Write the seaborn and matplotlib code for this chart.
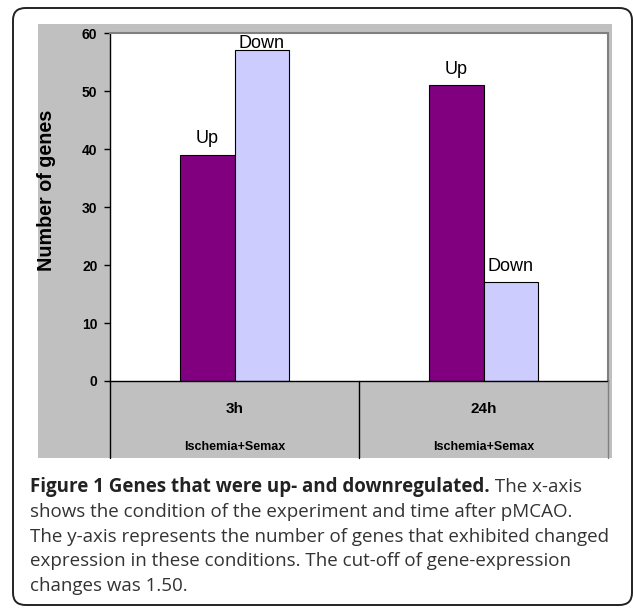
import matplotlib
matplotlib.use("Agg")
import matplotlib.pyplot as plt
from matplotlib.patches import Rectangle, FancyBboxPatch
from matplotlib.lines import Line2D
import seaborn as sns
import pandas as pd

# data
times = ["3h", "24h"]
conditions = ["Ischemia+Semax", "Ischemia+Semax"]
directions = ["Up", "Down"]
up_counts = [39, 51]
down_counts = [57, 17]
y_ticks = [0, 10, 20, 30, 40, 50, 60]

caption_bold = "Figure 1 Genes that were up- and downregulated."
caption_lines = [
    " The x-axis",
    "shows the condition of the experiment and time after pMCAO.",
    "The y-axis represents the number of genes that exhibited changed",
    "expression in these conditions. The cut-off of gene-expression",
    "changes was 1.50.",
]

df = pd.DataFrame({
    "time": times * 2,
    "direction": ["Up"] * len(times) + ["Down"] * len(times),
    "count": up_counts + down_counts,
})

sns.set_style("white")
plt.rcParams["font.family"] = ["Liberation Sans", "DejaVu Sans"]
plt.rcParams["text.color"] = "black"
plt.rcParams["axes.labelcolor"] = "black"
plt.rcParams["ytick.color"] = "black"

W, H = 633, 608
fig = plt.figure(figsize=(W / 100, H / 100), dpi=100)


def px(x, y):
    # pixel (from top-left) -> figure fraction
    return x / W, 1 - y / H


# outer rounded frame
fig.patches.append(FancyBboxPatch(px(13, 605), 619 / W, 597 / H,
                                  boxstyle="round,pad=0,rounding_size=0.02",
                                  transform=fig.transFigure, fill=False,
                                  edgecolor="#222222", linewidth=1.4, zorder=-2))

# grey chart panel
fig.patches.append(Rectangle(px(38, 458), 574 / W, 434 / H,
                             transform=fig.transFigure, facecolor="#c0c0c0",
                             edgecolor="none", zorder=-1))

left, right, top, zero = 110, 608, 33, 381
ax = fig.add_axes([left / W, 1 - zero / H, (right - left) / W, (zero - top) / H])
ax.set_facecolor("white")
ax.set_zorder(1)

sns.barplot(data=df, x="time", y="count", hue="direction", order=times,
            hue_order=directions, palette={"Up": "#800080", "Down": "#ccccff"},
            saturation=1, width=0.44, gap=0, edgecolor="black", linewidth=0.8,
            legend=False, ax=ax)

ax.set_xlim(-0.5, 1.5)
ax.set_ylim(0, 60)

# labels sit ~12px above the bar, pushed down when they would leave the plot
for cont, lab in zip(ax.containers, directions):
    for bar in cont:
        h = bar.get_height()
        ax.text(bar.get_x() + bar.get_width() / 2, min(h + 2.0, 57.5), lab,
                ha="center", va="baseline", fontsize=13)

ax.set_yticks(y_ticks)
ax.set_yticklabels([str(t) for t in y_ticks], fontweight="bold", fontsize=10)
ax.tick_params(axis="y", direction="out", length=4, width=1, color="black", pad=5, left=True)
ax.set_xticks([])
ax.set_xlabel("")
ax.set_ylabel("Number of genes", fontsize=14.2, fontweight="bold", va="center")
ax.yaxis.set_label_coords((47 - left) / (right - left), (zero - 190) / (zero - top))

for s in ["top", "right"]:
    ax.spines[s].set_color("#808080")
    ax.spines[s].set_linewidth(1.5)
ax.spines["left"].set_color("black")
ax.spines["bottom"].set_color("black")
ax.spines["left"].set_linewidth(1)
ax.spines["bottom"].set_linewidth(1)

# table under the axis
for xline in [110, 359, 608]:
    x0, y0 = px(xline, zero)
    _, y1 = px(xline, 458)
    fig.add_artist(Line2D([x0, x0], [y0, y1], transform=fig.transFigure,
                          color="black" if xline < 600 else "#808080", linewidth=1))

for i, (t, c) in enumerate(zip(times, conditions)):
    xc = (left + (i + 0.5) * (right - left) / len(times)) / W
    fig.text(xc, 1 - 409 / H, t, ha="center", va="center", fontsize=11, fontweight="bold")
    fig.text(xc, 1 - 447 / H, c, ha="center", va="center", fontsize=9, fontweight="bold")

# caption
cap_font = ["Open Sans", "DejaVu Sans"]
cap_size = 13.5
x_cap, y_first, step = 30, 487, 24.8
fig.canvas.draw()
tb = fig.text(x_cap / W, 1 - y_first / H, caption_bold, ha="left", va="center",
              fontsize=cap_size, fontweight="bold", family=cap_font, color="#222222")
bb = tb.get_window_extent(renderer=fig.canvas.get_renderer())
fig.text(bb.x1 / W, 1 - y_first / H, caption_lines[0], ha="left", va="center",
         fontsize=cap_size, family=cap_font, color="#333333")
for k, line in enumerate(caption_lines[1:], start=1):
    fig.text(x_cap / W, 1 - (y_first + k * step) / H, line, ha="left", va="center",
             fontsize=cap_size, family=cap_font, color="#333333")

fig.savefig("out.png", dpi=100)
